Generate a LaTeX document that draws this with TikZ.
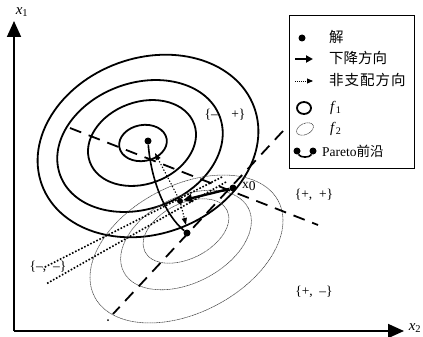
\documentclass[tikz,border=0pt]{standalone}
\usepackage{fontspec}
\setmainfont{Liberation Serif}
\newfontfamily\cjk{Noto Sans CJK SC}
\usetikzlibrary{arrows.meta}
\begin{document}
\begin{tikzpicture}[x=1pt,y=-1pt,
  fone/.style={line width=1.8pt},
  ftwo/.style={line width=0.55pt, black!75, dash pattern=on 1.2pt off 0.5pt},
  dashline/.style={line width=1.8pt, dash pattern=on 12pt off 8pt},
  dotline/.style={line width=1.6pt, dash pattern=on 1.6pt off 1.8pt},
  thindot/.style={line width=1.1pt, dash pattern=on 1.3pt off 1.8pt},
  dot/.style={circle, fill=black, inner sep=0pt, minimum size=7pt},
  lbl/.style={font=\fontsize{13.5}{15}\selectfont, inner sep=0pt},
  leg/.style={font=\fontsize{14.5}{16}\selectfont, inner sep=0pt, anchor=west},
  axisline/.style={line width=1.8pt, -{Triangle[length=16pt,width=14pt]}},
  bigarrow/.style={line width=2.4pt, -{Triangle[length=9pt,width=8pt]}},
  smallhead/.style={-{Triangle[length=7pt,width=5pt]}}
]
\useasboundingbox (0,0) rectangle (423,337);

% axes
\coordinate (origin) at (14,331);
\coordinate (ytip) at (14,21);
\coordinate (xtip) at (404,331);
\draw[axisline] (origin) -- (ytip);
\draw[axisline] (origin) -- (xtip);
\node[lbl, font=\fontsize{15}{17}\selectfont] (lx1) at (22,12) {\textit{x}\textsubscript{1}};
\node[lbl, font=\fontsize{15}{17}\selectfont] (lx2) at (415,328) {\textit{x}\textsubscript{2}};

% f1 contours
\draw[fone, rotate around={20:(148,146)}] (148,146) ellipse [x radius=113, y radius=88];
\draw[fone, rotate around={20:(140,146)}] (140,146) ellipse [x radius=85, y radius=63];
\draw[fone, rotate around={20:(142,143)}] (142,143) ellipse [x radius=55.5, y radius=41];
\draw[fone, rotate around={10:(143,143)}] (143,143) ellipse [x radius=24, y radius=18];

% f2 contours
\draw[ftwo, rotate around={27.5:(186.5,249)}] (186.5,249) ellipse [x radius=103.6, y radius=63.6];
\draw[ftwo, rotate around={27:(186,240)}] (186,240) ellipse [x radius=70, y radius=43];
\draw[ftwo, rotate around={27:(186,231)}] (186,231) ellipse [x radius=46, y radius=27.5];

% dashed separating lines
\coordinate (da) at (70,128);
\coordinate (db) at (318,225);
\coordinate (dc) at (283,131);
\coordinate (dd) at (113,314);
\draw[dashline] (da) -- (db);
\draw[dashline] (dc) -- (dd);
\node[circle, fill=black, inner sep=0pt, minimum size=2pt] (enddot) at (108,320) {};

% points
\node[dot] (f1min) at (148,141) {};
\node[dot] (f2min) at (187,233) {};
\node[dot] (x0) at (233,188) {};
\node[dot, minimum size=6pt] (mid) at (180,201) {};

% non-dominated directions
\coordinate (s1) at (222,177);
\coordinate (s2) at (226,182);
\coordinate (e1) at (43,268);
\coordinate (e2) at (46,284);
\draw[dotline] (s1) -- (e1);
\draw[dotline] (s2) -- (e2);
\coordinate (t1) at (155,153);
\coordinate (t2) at (186,225);
\draw[thindot, smallhead] (mid) -- (t1);
\draw[thindot, smallhead] (mid) -- (t2);

% Pareto front
\draw[line width=1.6pt] (f1min) .. controls (151,180) and (165,215) .. (f2min);

% descent direction
\draw[bigarrow] (x0) -- (mid);

% labels
\node[lbl, anchor=west] (lx0) at (242,186) {x\raisebox{-1.5pt}{0}};
\node[lbl] (rmp) at (225,115) {\{–\quad +\}};
\node[lbl] (rpp) at (314,195) {\{+,\enspace +\}};
\node[lbl] (rpm) at (314,292) {\{+,\enspace –\}};
\node[lbl] (rmm) at (48,267) {\{–,\enspace –\}};

% legend
\node[draw, line width=0.8pt, minimum width=125pt, minimum height=153pt, inner sep=0pt, anchor=north west] (legbox) at (289,15) {};
\node[dot] (lgdot) at (302,38) {};
\node[leg] (lg1) at (329,37) {\cjk 解};
\coordinate (la1) at (295,59);
\coordinate (la2) at (313,59);
\draw[line width=2.4pt, -{Triangle[length=7pt,width=7pt]}] (la1) -- (la2);
\node[leg] (lg2) at (329,58) {\cjk 下降方向};
\coordinate (lb1) at (295,81);
\coordinate (lb2) at (313,81);
\draw[line width=0.9pt, dash pattern=on 1pt off 1pt, -{Triangle[length=6pt,width=5pt]}] (lb1) -- (lb2);
\node[leg] (lg3) at (329,80) {\cjk 非\hspace{1pt}支\hspace{1pt}配\hspace{1pt}方\hspace{1pt}向};
\draw[line width=1.8pt] (304,108) ellipse [x radius=7, y radius=6];
\node[leg] (lg4) at (330,108) {\textit{f}\textsubscript{1}};
\draw[ftwo, rotate around={25:(305,129)}] (305,129) ellipse [x radius=9, y radius=5.5];
\node[leg] (lg5) at (330,129) {\textit{f}\textsubscript{2}};
\node[dot] (lp1) at (297,151) {};
\node[dot] (lp2) at (313,151) {};
\draw[line width=1.6pt] (lp1) .. controls (300,158) and (310,158) .. (lp2);
\node[leg, font=\fontsize{13.5}{15}\selectfont] (lg6) at (322,151) {Pareto{\cjk 前沿}};
\end{tikzpicture}
\end{document}
